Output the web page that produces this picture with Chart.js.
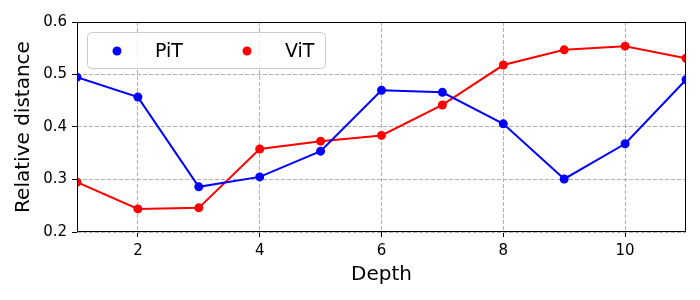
<!DOCTYPE html>
<html lang="en">
<head>
    <meta charset="UTF-8">
    <title>Relative distance by depth</title>
    <script src="https://cdn.jsdelivr.net/npm/chart.js"></script>
    <style>
        body { margin: 0; background: #fff; }
        canvas { display: block; }
    </style>
</head>
<body>
    <canvas id="chart" width="700" height="300"></canvas>

    <script>
        const depth = [1, 2, 3, 4, 5, 6, 7, 8, 9, 10, 11];
        const pitValues = [0.495, 0.457, 0.286, 0.305, 0.354, 0.470, 0.466, 0.406, 0.301, 0.368, 0.490];
        const vitValues = [0.295, 0.244, 0.246, 0.358, 0.373, 0.384, 0.442, 0.518, 0.547, 0.554, 0.531];
        const xTicks = [2, 4, 6, 8, 10];
        const yTicks = [0.2, 0.3, 0.4, 0.5, 0.6];

        const font = "'DejaVu Sans', sans-serif";

        // frame around the axes, like matplotlib spines
        const framePlugin = {
            id: "frame",
            afterDatasetsDraw(chart) {
                const { ctx, chartArea: a } = chart;
                ctx.save();
                ctx.strokeStyle = "#000";
                ctx.lineWidth = 1;
                ctx.strokeRect(a.left + 0.5, a.top + 0.5, a.right - a.left - 1, a.bottom - a.top - 1);
                ctx.restore();
            }
        };

        // legend drawn inside the plot, two columns, markers only
        const insideLegend = {
            id: "insideLegend",
            afterDraw(chart) {
                const { ctx, chartArea: a } = chart;
                const x0 = a.left + 10, y0 = a.top + 10, w = 238, h = 36;
                ctx.save();
                ctx.beginPath();
                ctx.roundRect(x0 + 0.5, y0 + 0.5, w, h, 4);
                ctx.fillStyle = "rgba(255,255,255,0.8)";
                ctx.fill();
                ctx.strokeStyle = "#cccccc";
                ctx.lineWidth = 1;
                ctx.stroke();
                ctx.font = "19px " + font;
                ctx.textBaseline = "middle";
                chart.data.datasets.forEach((ds, i) => {
                    const mx = x0 + 30 + i * 130;
                    const my = y0 + 19;
                    ctx.beginPath();
                    ctx.arc(mx, my, 4.5, 0, Math.PI * 2);
                    ctx.fillStyle = ds.borderColor;
                    ctx.fill();
                    ctx.fillStyle = "#000";
                    ctx.fillText(ds.label, mx + 38, my + 1);
                });
                ctx.restore();
            }
        };

        new Chart(document.getElementById("chart"), {
            type: "line",
            data: {
                labels: depth,
                datasets: [{
                    label: "PiT",
                    data: depth.map((d, i) => ({ x: d, y: pitValues[i] })),
                    borderColor: "#0000ff",
                    backgroundColor: "#0000ff",
                    borderWidth: 2,
                    pointRadius: 4.5,
                    pointHoverRadius: 4.5,
                    pointBorderWidth: 0,
                    tension: 0,
                    clip: 0
                }, {
                    label: "ViT",
                    data: depth.map((d, i) => ({ x: d, y: vitValues[i] })),
                    borderColor: "#ff0000",
                    backgroundColor: "#ff0000",
                    borderWidth: 2,
                    pointRadius: 4.5,
                    pointHoverRadius: 4.5,
                    pointBorderWidth: 0,
                    tension: 0,
                    clip: 0
                }]
            },
            options: {
                responsive: false,
                animation: false,
                layout: { padding: { top: 22, right: 14, left: 0, bottom: 0 } },
                plugins: {
                    legend: { display: false },
                    tooltip: { enabled: false }
                },
                scales: {
                    x: {
                        type: "linear",
                        min: 1,
                        max: 11,
                        afterBuildTicks: s => { s.ticks = xTicks.map(v => ({ value: v })); },
                        afterFit: s => { s.height = 68; },
                        grid: { color: "#b0b0b0", lineWidth: 1, tickColor: "#000", tickLength: 5, drawOnChartArea: true },
                        border: { display: false, dash: [4, 2] },
                        ticks: { color: "#000", font: { family: font, size: 15 }, padding: 5, maxRotation: 0 },
                        title: { display: true, text: "Depth", color: "#000", font: { family: font, size: 20 }, padding: { top: 0, bottom: 13 } }
                    },
                    y: {
                        min: 0.2,
                        max: 0.6,
                        afterBuildTicks: s => { s.ticks = yTicks.map(v => ({ value: v })); },
                        afterFit: s => { s.width = 77; },
                        grid: { color: "#b0b0b0", lineWidth: 1, tickColor: "#000", tickLength: 5 },
                        border: { display: false, dash: [4, 2] },
                        ticks: { color: "#000", font: { family: font, size: 15 }, padding: 5, callback: v => v.toFixed(1) },
                        title: { display: true, text: "Relative distance", color: "#000", font: { family: font, size: 20 }, padding: { top: 12, bottom: 0 } }
                    }
                }
            },
            plugins: [framePlugin, insideLegend]
        });
    </script>
</body>
</html>
